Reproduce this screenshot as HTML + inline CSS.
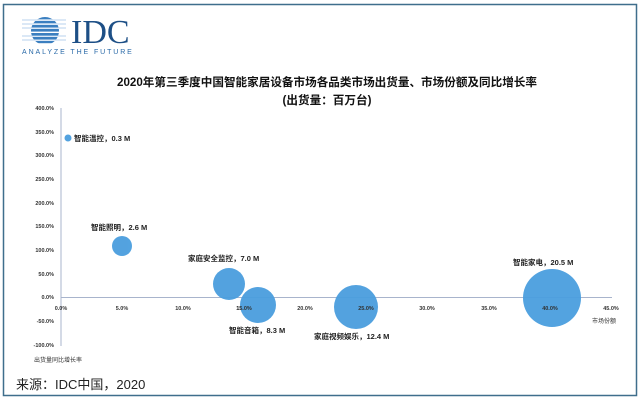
<!DOCTYPE html>
<html><head><meta charset="utf-8"><style>
body{margin:0;background:#fff;}
svg{display:block;font-family:"Liberation Sans","Noto Sans CJK SC",sans-serif;}
</style></head><body>
<svg width="641" height="400" viewBox="0 0 641 400" xmlns="http://www.w3.org/2000/svg">
<rect x="3.5" y="4.5" width="633" height="391" fill="#fff" stroke="#3f6e8c" stroke-width="1.5"/>
<!-- logo -->
<defs><clipPath id="g"><circle cx="45" cy="31" r="14"/></clipPath></defs>
<g clip-path="url(#g)" fill="#3b7fc0">
<rect x="20" y="17" width="50" height="2.2"/><rect x="20" y="21" width="50" height="2.2"/>
<rect x="20" y="25" width="50" height="2.4"/><rect x="20" y="29" width="50" height="2.6"/>
<rect x="20" y="33" width="50" height="2.6"/><rect x="20" y="37" width="50" height="2.4"/>
<rect x="20" y="41" width="50" height="2.2"/>
</g>
<g stroke="#9fc3e6" stroke-width="0.8"><line x1="22" y1="20" x2="66" y2="20"/><line x1="22" y1="24" x2="66" y2="24"/><line x1="22" y1="28" x2="66" y2="28"/><line x1="22" y1="36" x2="66" y2="36"/><line x1="22" y1="40" x2="66" y2="40"/></g>
<text x="71" y="43" font-family="Liberation Serif,serif" font-size="34" fill="#1d4f86">IDC</text>
<text x="22" y="54" font-size="7" letter-spacing="1.9" fill="#2a6aa8">ANALYZE THE FUTURE</text>
<!-- title -->
<text x="327" y="86" text-anchor="middle" font-size="11.6" font-weight="bold" fill="#111">2020年第三季度中国智能家居设备市场各品类市场出货量、市场份额及同比增长率</text>
<text x="327" y="104" text-anchor="middle" font-size="11.6" font-weight="bold" fill="#111">(出货量：百万台)</text>
<!-- axes -->
<line x1="61" y1="108" x2="61" y2="346" stroke="#a8b4cc" stroke-width="1"/>
<line x1="61" y1="297.5" x2="612" y2="297.5" stroke="#a8b4cc" stroke-width="1"/>
<g font-size="5.5" font-weight="bold" fill="#333" text-anchor="end">
<text x="54" y="110">400.0%</text><text x="54" y="134">350.0%</text><text x="54" y="157">300.0%</text>
<text x="54" y="181">250.0%</text><text x="54" y="205">200.0%</text><text x="54" y="228">150.0%</text>
<text x="54" y="252">100.0%</text><text x="54" y="276">50.0%</text><text x="54" y="299">0.0%</text>
<text x="54" y="323">-50.0%</text><text x="54" y="347">-100.0%</text>
</g>
<g font-size="5.5" font-weight="bold" fill="#333" text-anchor="middle">
<text x="61" y="310">0.0%</text><text x="122" y="310">5.0%</text><text x="183" y="310">10.0%</text>
<text x="244" y="310">15.0%</text><text x="305" y="310">20.0%</text><text x="366" y="310">25.0%</text>
<text x="427" y="310">30.0%</text><text x="489" y="310">35.0%</text><text x="550" y="310">40.0%</text>
<text x="611" y="310">45.0%</text>
</g>
<text x="604" y="323" font-size="6" fill="#333" text-anchor="middle">市场份额</text>
<text x="34" y="362" font-size="6" fill="#333">出货量同比增长率</text>
<!-- bubbles -->
<g fill="#4a9ede" opacity="0.95">
<circle cx="68" cy="138" r="3.5"/>
<circle cx="122" cy="246" r="10"/>
<circle cx="229" cy="284" r="16"/>
<circle cx="258" cy="305" r="18"/>
<circle cx="356" cy="307" r="22"/>
<circle cx="552" cy="298" r="29"/>
</g>
<g font-size="7.5" font-weight="bold" fill="#222">
<text x="74" y="141">智能温控，0.3 M</text>
<text x="91" y="230">智能照明，2.6 M</text>
<text x="188" y="261">家庭安全监控，7.0 M</text>
<text x="229" y="333">智能音箱，8.3 M</text>
<text x="314" y="339">家庭视频娱乐，12.4 M</text>
<text x="513" y="265">智能家电，20.5 M</text>
</g>
<g font-size="5.5" font-weight="bold" fill="#333" text-anchor="middle">
<text x="244" y="310">15.0%</text><text x="366" y="310">25.0%</text><text x="550" y="310">40.0%</text>
</g>
<text x="16" y="389" font-size="13" fill="#222">来源：IDC中国，2020</text>
</svg>
</body></html>
